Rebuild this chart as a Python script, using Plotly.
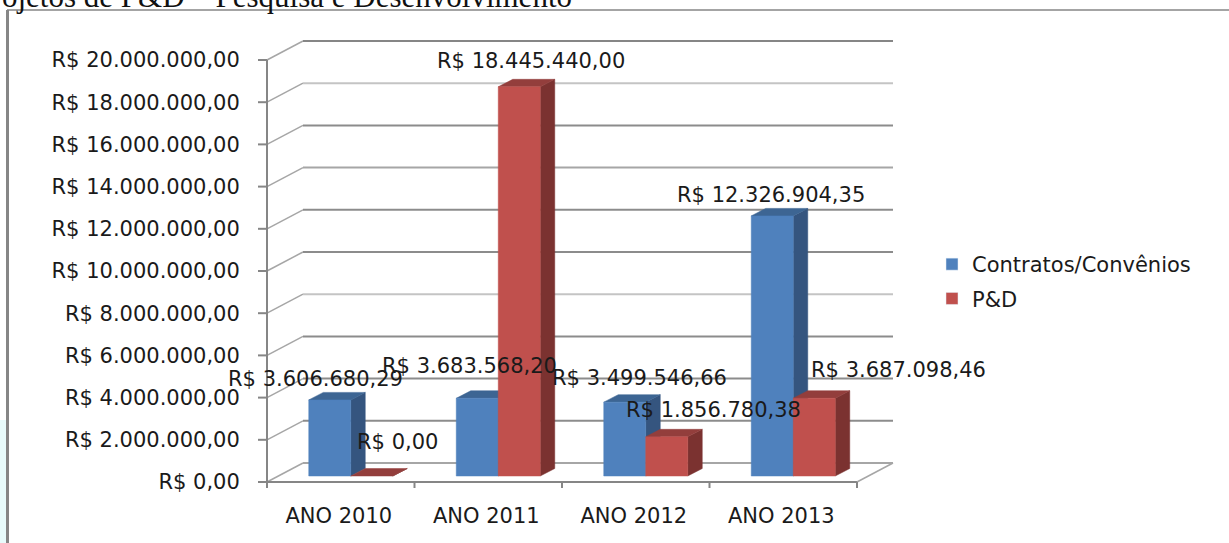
import plotly.graph_objects as go

categories = ["ANO 2010", "ANO 2011", "ANO 2012", "ANO 2013"]
contratos = [3606680.29, 3683568.20, 3499546.66, 12326904.35]
ped = [0.0, 18445440.00, 1856780.38, 3687098.46]
contratos_labels = ["R$ 3.606.680,29", "R$ 3.683.568,20", "R$ 3.499.546,66", "R$ 12.326.904,35"]
ped_labels = ["R$ 0,00", "R$ 18.445.440,00", "R$ 1.856.780,38", "R$ 3.687.098,46"]
y_ticks = [i * 2000000 for i in range(11)]
y_labels = ["R$ 0,00", "R$ 2.000.000,00", "R$ 4.000.000,00", "R$ 6.000.000,00", "R$ 8.000.000,00",
            "R$ 10.000.000,00", "R$ 12.000.000,00", "R$ 14.000.000,00", "R$ 16.000.000,00",
            "R$ 18.000.000,00", "R$ 20.000.000,00"]
grid_colors = ["#a6a6a6", "#8c8c8c", "#8c8c8c", "#8c8c8c", "#c4c4c4", "#8c8c8c",
               "#8c8c8c", "#a6a6a6", "#8c8c8c", "#c4c4c4", "#868686"]

W, H = 1229, 543
AX0, AY0 = 267, 482                     # where the value axis meets the category axis
X0, X1, Y0, YT = 252, 895, 494, 38      # plot box in pixels
CAT_PX = 147.5
PX_PER_VAL = 422 / 20000000
dxp = lambda p: p / CAT_PX
dyp = lambda p: p / PX_PER_VAL
xr = (-0.5 - dxp(AX0 - X0), -0.5 + dxp(X1 - AX0))
yr = (-dyp(Y0 - AY0), dyp(AY0 - YT))
px = lambda p: (p - X0) / (X1 - X0)
py = lambda p: (Y0 - p) / (Y0 - YT)
FONT = "DejaVu Sans"
FS = 21

fig = go.Figure()


def line(xs, ys, color, width=2):
    fig.add_trace(go.Scatter(x=xs, y=ys, mode="lines", line=dict(color=color, width=width),
                             showlegend=False, hoverinfo="skip"))


def poly(xs, ys, color):
    fig.add_trace(go.Scatter(x=xs, y=ys, mode="lines", fill="toself", fillcolor=color,
                             line=dict(color=color, width=0.5), showlegend=False, hoverinfo="skip"))


# back wall gridlines and side-wall diagonals
wx, wy = dxp(36), dyp(19)
end = -0.5 + 4
wall_end = -0.5 + dxp(893 - AX0)
for v, c in zip(y_ticks, grid_colors):
    line([-0.5, -0.5 + wx], [v, v + wy], "#a6a6a6", 1.5)
    line([-0.5 + wx, wall_end], [v + wy, v + wy], c)
# front floor edge and right floor diagonal
line([-0.5, end], [0, 0], "#868686")
line([end, end + wx], [0, wy], "#a6a6a6", 1.5)
# value axis line
line([-0.5, -0.5], [0, y_ticks[-1]], "#868686")
# outer ticks
for v in y_ticks:
    line([-0.5 - dxp(9), -0.5], [v, v], "#868686")
for k in range(5):
    line([-0.5 + k, -0.5 + k], [0, -dyp(6)], "#868686")

BW = 42 / CAT_PX          # bar width
BASE = dyp(6)             # bar front sits this far above the front floor edge
SX, SY = dxp(14.5), dyp(7.5)   # depth of a bar
OFFS = [-BW + dxp(10), dxp(10)]
STYLES = [("#4f81bd", "#35557f", "#3d6593"), ("#c0504d", "#7b3230", "#933e3c")]

for i in range(len(categories)):
    for s, vals in enumerate((contratos, ped)):
        x0 = i + OFFS[s]
        x1 = x0 + BW
        top = vals[i] + BASE
        front, side, cap = STYLES[s]
        poly([x1, x1 + SX, x1 + SX, x1, x1], [BASE, BASE + SY, top + SY, top, BASE], side)
        poly([x0, x0 + SX, x1 + SX, x1, x0], [top, top + SY, top + SY, top, top], cap)
        if vals[i] > 0:
            poly([x0, x1, x1, x0, x0], [BASE, BASE, top, top, BASE], front)

# legend entries
for name, color, group in (("Contratos/Convênios", "#4f81bd", "a"), ("P&D", "#c0504d", "b")):
    fig.add_trace(go.Bar(x=[None], y=[None], name=name, marker_color=color, legendgroup=group))

# data labels: (series values, label, bar index, x pixel shift, y pixel shift)
placements = [
    (contratos, contratos_labels, 0, [-14, -8, 15, -1], [27, 38, 30, 27]),
    (ped, ped_labels, 1, [26, 12, 47, 84], [40, 32, 33, 34]),
]
for vals, texts, s, xs, ys in placements:
    for i in range(len(categories)):
        fig.add_annotation(x=i + OFFS[s] + BW / 2, y=vals[i], text=texts[i], showarrow=False,
                           xshift=xs[i], yshift=ys[i], font=dict(family=FONT, size=FS, color="#1a1a1a"))

# heading cut off by the top of the picture and the frame of the pasted image
fig.add_annotation(xref="paper", yref="paper", x=px(0), y=py(-4), xanchor="left", yanchor="middle",
                   showarrow=False, text="ojetos de P&D – Pesquisa e Desenvolvimento",
                   font=dict(family="Liberation Serif", size=31, color="#111111"))

fig.add_shape(type="rect", xref="paper", yref="paper", x0=px(0), x1=px(6), y0=py(543), y1=py(420),
              fillcolor="#e8fbfb", line=dict(width=0), layer="below")
fig.add_shape(type="line", xref="paper", yref="paper", x0=px(7.5), x1=px(7.5), y0=py(543), y1=py(10),
              line=dict(color="#868686", width=3))
fig.add_shape(type="line", xref="paper", yref="paper", x0=px(7), x1=px(1229), y0=py(10), y1=py(10),
              line=dict(color="#868686", width=1.5))

fig.update_layout(
    width=W, height=H, autosize=False, paper_bgcolor="white", plot_bgcolor="white",
    margin=dict(l=X0, r=W - X1, t=YT, b=H - Y0, pad=0),
    showlegend=True,
    legend=dict(x=px(932), y=py(244), xanchor="left", yanchor="top",
                font=dict(family=FONT, size=FS, color="#1a1a1a"), tracegroupgap=4,
                bgcolor="rgba(0,0,0,0)"),
    xaxis=dict(range=list(xr), tickmode="array", tickvals=[i - dxp(2) for i in range(4)], ticktext=categories,
               showgrid=False, zeroline=False, showline=False, ticks="outside", ticklen=3,
               tickcolor="rgba(0,0,0,0)", tickfont=dict(family=FONT, size=FS, color="#1a1a1a")),
    yaxis=dict(range=list(yr), tickmode="array", tickvals=y_ticks, ticktext=y_labels,
               showgrid=False, zeroline=False, showline=False, ticks="outside", ticklen=7,
               tickcolor="rgba(0,0,0,0)", tickfont=dict(family=FONT, size=FS, color="#1a1a1a")),
)
fig.write_html("out.html", config={"displayModeBar": False},
               post_script="document.body.style.margin='0';")
